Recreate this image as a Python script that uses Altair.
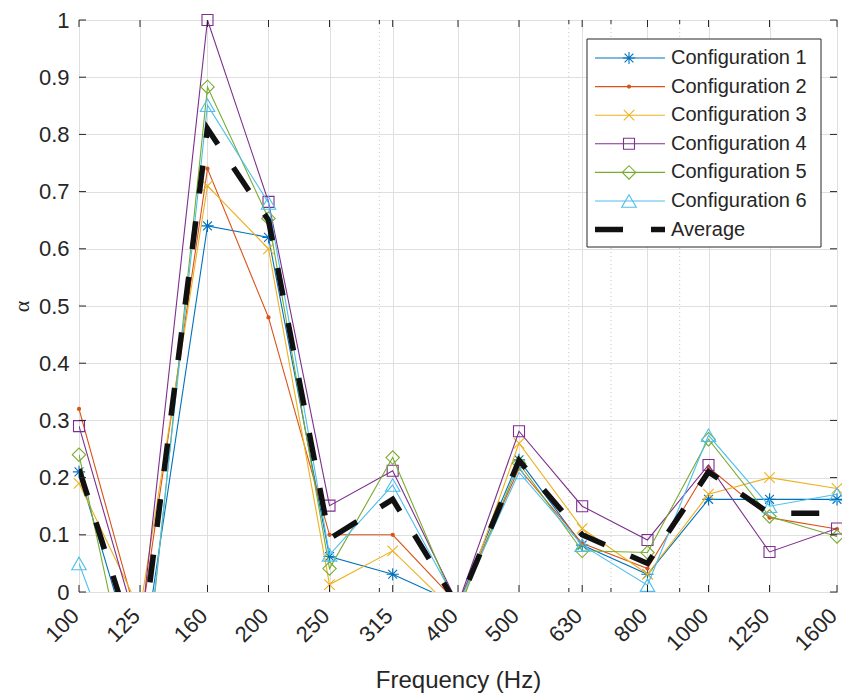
import altair as alt
import pandas as pd

freqs = [100, 125, 160, 200, 250, 315, 400, 500, 630, 800, 1000, 1250, 1600]
minor_freqs = [300, 600, 700, 900]
y_ticks = [0, 0.1, 0.2, 0.3, 0.4, 0.5, 0.6, 0.7, 0.8, 0.9, 1.0]

names = ["Configuration 1", "Configuration 2", "Configuration 3",
         "Configuration 4", "Configuration 5", "Configuration 6"]
avg_name = "Average"

c1 = [0.21, -0.15, 0.64, 0.62, 0.062, 0.031, -0.021, 0.231, 0.082, 0.031, 0.162, 0.162, 0.162]
c2 = [0.32, -0.065, 0.74, 0.48, 0.10, 0.10, -0.021, 0.216, 0.085, 0.041, 0.218, 0.13, 0.11]
c3 = [0.19, -0.032, 0.71, 0.60, 0.013, 0.072, -0.039, 0.26, 0.111, 0.031, 0.171, 0.20, 0.181]
c4 = [0.29, -0.08, 1.0, 0.682, 0.151, 0.212, -0.021, 0.281, 0.15, 0.091, 0.222, 0.07, 0.111]
c5 = [0.24, -0.253, 0.883, 0.653, 0.041, 0.235, -0.032, 0.225, 0.072, 0.069, 0.267, 0.132, 0.097]
c6 = [0.05, -0.235, 0.851, 0.68, 0.065, 0.187, -0.023, 0.209, 0.082, 0.012, 0.274, 0.150, 0.171]
avg = [0.215, -0.12, 0.81, 0.65, 0.093, 0.162, -0.025, 0.23, 0.10, 0.05, 0.21, 0.1375, 0.1375]

series = [c1, c2, c3, c4, c5, c6]
colors = ["#0072BD", "#D95319", "#EDB120", "#7E2F8E", "#77AC30", "#4DBEEE"]

ASTER = "M0,-1L0,1M-1,0L1,0M-0.72,-0.72L0.72,0.72M-0.72,0.72L0.72,-0.72"
XMARK = "M-1,-1L1,1M-1,1L1,-1"
markers = [
    dict(shape=ASTER, size=150, filled=False),
    dict(shape="circle", size=18, filled=True),
    dict(shape=XMARK, size=110, filled=False),
    dict(shape="square", size=121, filled=False),
    dict(shape="diamond", size=180, filled=False),
    dict(shape="triangle-up", size=210, filled=False),
]

W, H = 758, 572
FONT = "Liberation Sans"
TXT = "#262626"

xscale = alt.Scale(type="log", domain=[100, 1600], nice=False)
yscale = alt.Scale(domain=[0, 1], nice=False, zero=False)

x_axis = alt.Axis(values=freqs, title="Frequency (Hz)", labelAngle=-45, grid=True,
                  gridColor="#dfdfdf", gridWidth=1, ticks=False, domain=False,
                  labelFont=FONT, labelFontSize=22, labelColor=TXT, labelPadding=20,
                  labelAlign="right", labelBaseline="middle", labelOffset=-4,
                  titleFont=FONT, titleFontSize=24, titleColor=TXT, titleFontWeight="normal",
                  titlePadding=14, format="d", labelOverlap=False, labelFlush=False)
y_axis = alt.Axis(values=y_ticks, title="α", grid=True, gridColor="#dfdfdf", gridWidth=1,
                  ticks=False, domain=False, labelFont=FONT, labelFontSize=22,
                  labelColor=TXT, labelPadding=10, format="~g",
                  titleFont="Liberation Serif", titleFontSize=22, titleColor=TXT,
                  titleFontWeight="normal", titlePadding=5, labelOverlap=False,
                  labelFlush=False)


def X(field="f"):
    return alt.X(f"{field}:Q", scale=xscale, axis=x_axis)


def Y(field="v"):
    return alt.Y(f"{field}:Q", scale=yscale, axis=y_axis)


layers = []

# minor dotted grid
minor_df = pd.DataFrame({"f": minor_freqs})
layers.append(
    alt.Chart(minor_df).mark_rule(color="#c4c4c4", strokeWidth=1, strokeDash=[1, 3])
    .encode(x=X())
)

for i, (vals, col, mk) in enumerate(zip(series, colors, markers)):
    df = pd.DataFrame({"f": freqs, "v": vals})
    line = alt.Chart(df).mark_line(clip=True, strokeWidth=1.1, color=col).encode(
        x=X(), y=Y())
    pts = alt.Chart(df).transform_filter("datum.v >= 0 && datum.v <= 1").mark_point(
        shape=mk["shape"], size=mk["size"], filled=mk["filled"],
        color=col, strokeWidth=1.1, opacity=1,
    ).encode(x=X(), y=Y())
    layers += [line, pts]

avg_df = pd.DataFrame({"f": freqs, "v": avg})
layers.append(
    alt.Chart(avg_df).mark_line(clip=True, strokeWidth=5.5, color="#111111",
                                strokeDash=[28, 28], strokeCap="butt")
    .encode(x=X(), y=Y())
)

# inward ticks on all four sides
yt_df = pd.DataFrame({"v": y_ticks})
xt_df = pd.DataFrame({"f": freqs})
mt_df = pd.DataFrame({"f": minor_freqs})
TL = 7
for x0, x1 in [(0, TL), (W - TL, W)]:
    layers.append(alt.Chart(yt_df).mark_rule(color=TXT, strokeWidth=1).encode(
        y=Y(), x=alt.value(x0), x2=alt.value(x1)))
for y0, y1 in [(H - TL, H), (0, TL)]:
    layers.append(alt.Chart(xt_df).mark_rule(color=TXT, strokeWidth=1).encode(
        x=X(), y=alt.value(y0), y2=alt.value(y1)))
for y0, y1 in [(H - 4, H), (0, 4)]:
    layers.append(alt.Chart(mt_df).mark_rule(color=TXT, strokeWidth=1).encode(
        x=X(), y=alt.value(y0), y2=alt.value(y1)))

# legend
one = pd.DataFrame({"a": [1]})
LX0, LX1, LY0, LY1 = 508, 742, 19, 227
layers.append(alt.Chart(one).mark_rect(fill="white", stroke=TXT, strokeWidth=1).encode(
    x=alt.value(LX0), x2=alt.value(LX1), y=alt.value(LY0), y2=alt.value(LY1)))
row_y = [38 + 28.6 * k for k in range(7)]
labels = names + [avg_name]
for k, lab in enumerate(labels):
    yy = row_y[k]
    if k < 6:
        layers.append(alt.Chart(one).mark_rule(color=colors[k], strokeWidth=1.1).encode(
            x=alt.value(516), x2=alt.value(586), y=alt.value(yy)))
        mk = markers[k]
        layers.append(alt.Chart(one).mark_point(
            shape=mk["shape"], size=mk["size"], filled=mk["filled"], color=colors[k],
            strokeWidth=1.1, opacity=1).encode(x=alt.value(550), y=alt.value(yy)))
    else:
        layers.append(alt.Chart(one).mark_rule(color="#111111", strokeWidth=5.5,
                                               strokeDash=[28, 28], strokeCap="butt").encode(
            x=alt.value(516), x2=alt.value(586), y=alt.value(yy)))
    lab_df = pd.DataFrame({"t": [lab]})
    layers.append(alt.Chart(lab_df).mark_text(align="left", baseline="middle", fontSize=20,
                                              font=FONT, color=TXT).encode(
        x=alt.value(592), y=alt.value(yy), text="t:N"))

chart = alt.layer(*layers).properties(
    width=W, height=H,
    padding={"left": 71, "top": 12, "right": 5, "bottom": 106},
    autosize=alt.AutoSizeParams(type="none"),
).configure_view(stroke=TXT, strokeWidth=1)

chart.save("out.html", embed_options={"renderer": "svg", "actions": False})
